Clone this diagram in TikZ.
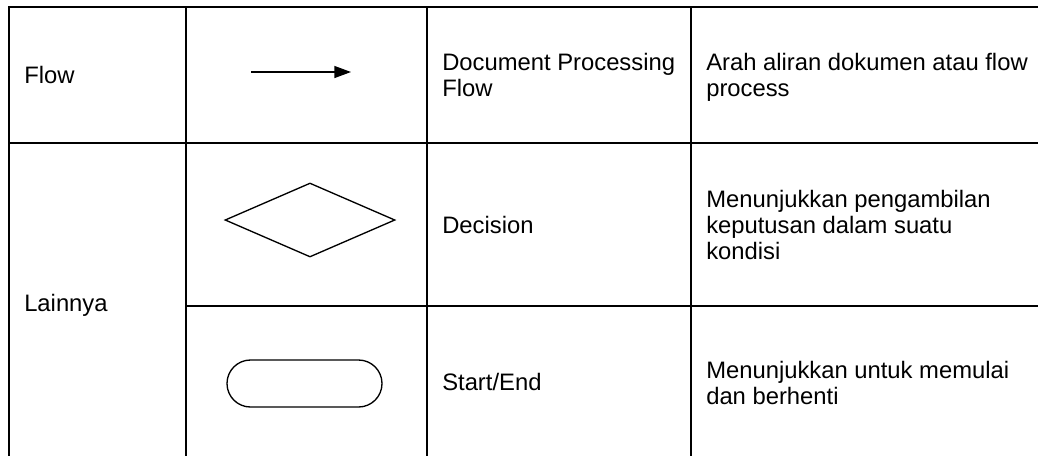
\documentclass[tikz,border=0pt]{standalone}
\usepackage{fontspec}
\setmainfont{Liberation Sans}
\usetikzlibrary{arrows.meta,shapes.geometric}
\begin{document}
\begin{tikzpicture}[x=0.75pt,y=-0.75pt,
  gridline/.style={line width=1.9pt, line cap=rect},
  lbl/.style={anchor=base west, inner sep=0pt, align=left,
    font=\fontsize{17.85pt}{19.5pt}\selectfont},
  symline/.style={line width=1pt},
  flowarrow/.style={symline, -{Triangle[length=12.5pt,width=9pt]}}]
\useasboundingbox (0,0) rectangle (1038,455);
% grid coordinates
\coordinate (tl) at (9,7);
\coordinate (tr) at (1038,7);
\coordinate (bl) at (9,455);
\coordinate (c1t) at (186,7);
\coordinate (c1b) at (186,455);
\coordinate (c2t) at (427,7);
\coordinate (c2b) at (427,455);
\coordinate (c3t) at (691,7);
\coordinate (c3b) at (691,455);
\coordinate (r1l) at (9,143);
\coordinate (r1r) at (1038,143);
\coordinate (r2l) at (186,306);
\coordinate (r2r) at (1038,306);
\draw[gridline] (tl) -- (tr);
\draw[gridline] (tl) -- (bl);
\draw[gridline] (c1t) -- (c1b);
\draw[gridline] (c2t) -- (c2b);
\draw[gridline] (c3t) -- (c3b);
\draw[gridline] (r1l) -- (r1r);
\draw[gridline] (r2l) -- (r2r);
% row 1 (multi-line labels are anchored at the baseline of their last line)
\node[lbl] (flow) at (24,83) {Flow};
\coordinate (aS) at (251,72);
\coordinate (aE) at (351,72);
\draw[flowarrow] (aS) -- (aE);
\node[lbl] (docflow) at (442,96.5) {Document Processing\\Flow};
\node[lbl] (docdesc) at (706,96.5) {Arah aliran dokumen atau flow\\process};
% rows 2-3
\node[lbl] (lain) at (24,311) {Lainnya};
\node[diamond, draw, symline, minimum width=127.5pt, minimum height=55.5pt, inner sep=0pt, aspect=2.3] (dec) at (310,220) {};
\node[lbl] (decname) at (442,233) {Decision};
\node[lbl] (decdesc) at (706,259) {Menunjukkan pengambilan\\keputusan dalam suatu\\kondisi};
\node[draw, symline, rounded corners=17.6pt, minimum width=116.25pt, minimum height=35.25pt, inner sep=0pt] (term) at (304.5,383.5) {};
\node[lbl] (termname) at (442,390) {Start/End};
\node[lbl] (termdesc) at (706,404) {Menunjukkan untuk memulai\\dan berhenti};
\end{tikzpicture}
\end{document}
